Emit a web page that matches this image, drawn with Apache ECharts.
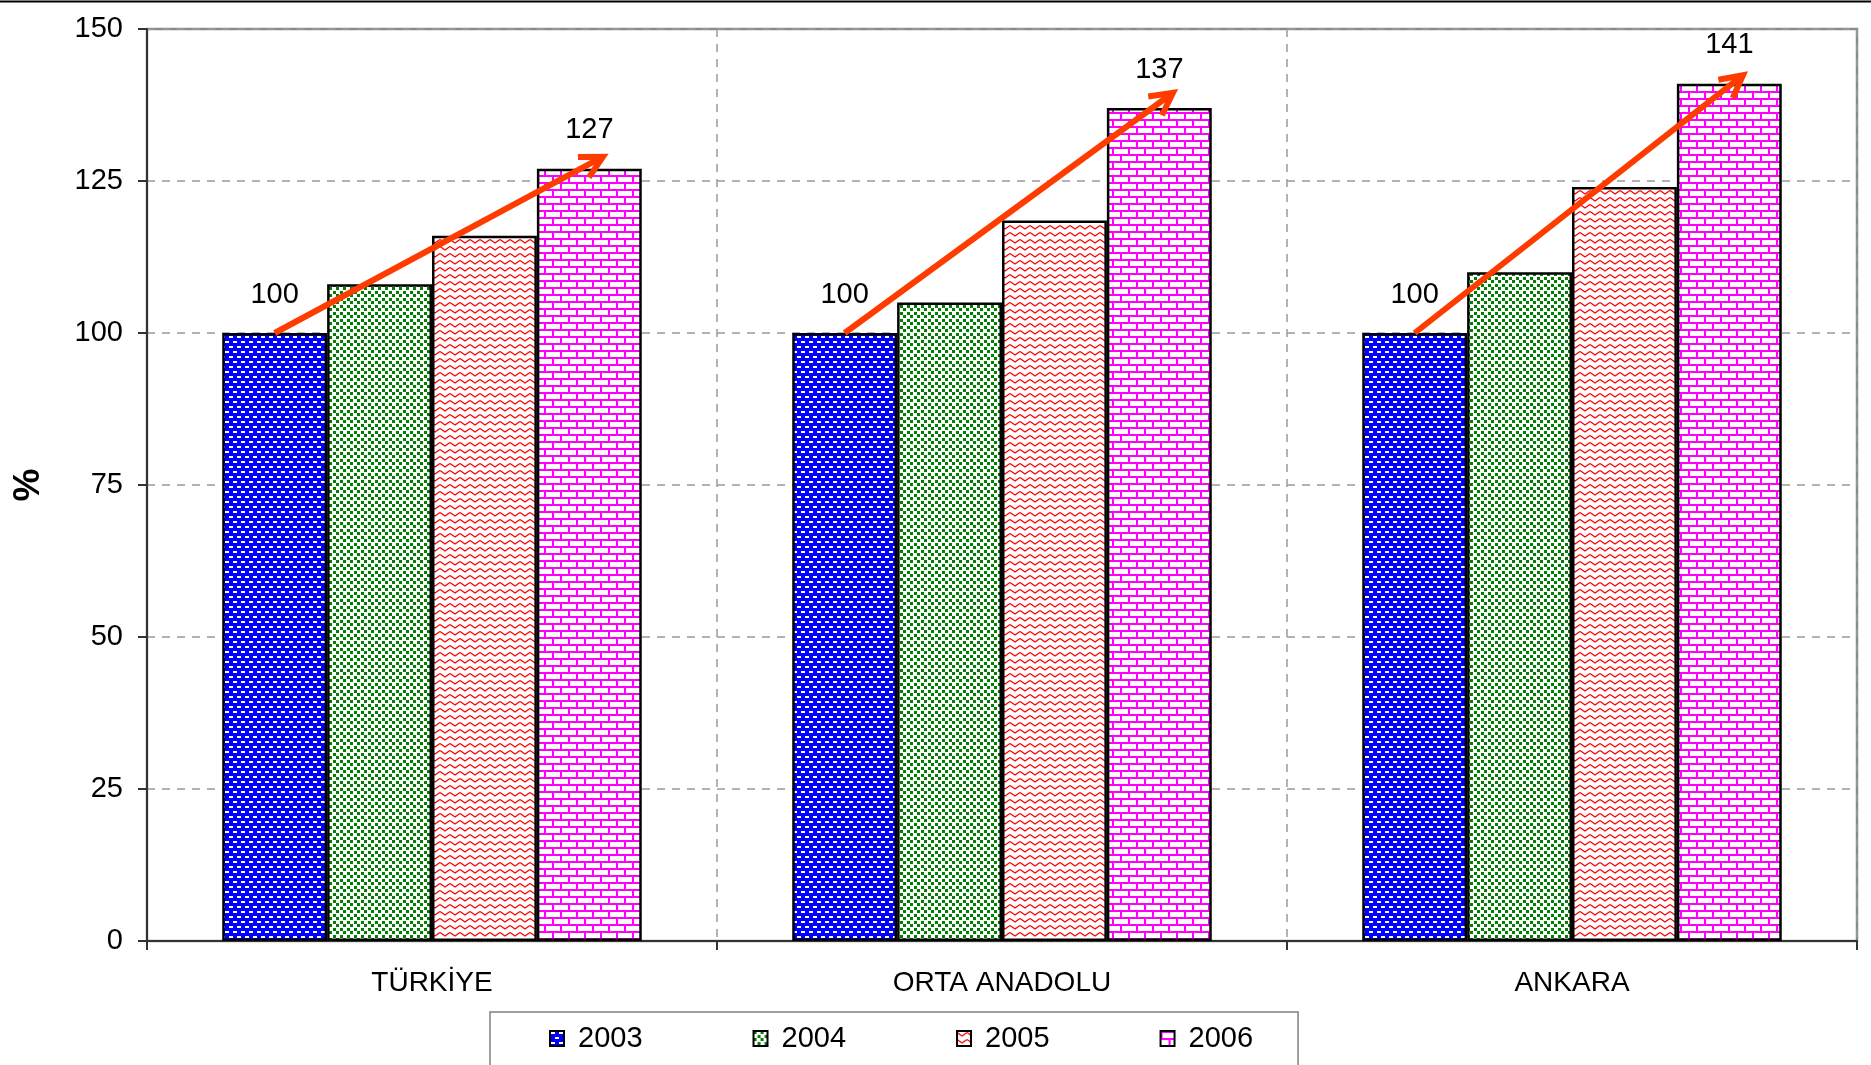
<!DOCTYPE html>
<html>
<head>
<meta charset="utf-8">
<script src="https://cdn.jsdelivr.net/npm/echarts@6/dist/echarts.min.js"></script>
<style>
  html, body { margin: 0; padding: 0; background: #fff; }
  #chart { width: 1871px; height: 1065px; }
</style>
</head>
<body>
<div id="chart"></div>
<script>
// kategoriler ve yıllar
const categories = ['TÜRKİYE', 'ORTA ANADOLU', 'ANKARA']
const years = ['2003', '2004', '2005', '2006']
const yTicks = [0, 25, 50, 75, 100, 125, 150]

// endeks değerleri (2003 = 100)
const v2003 = [100, 100, 100]
const v2004 = [108, 105, 110]
const v2005 = [116, 118.5, 124]
const v2006 = [127, 137, 141]

// artış okları: başlangıç ve uç değerleri
const arrowStart = [100, 100, 100]
const arrowEnd = [129, 139.5, 142.4]

const FONT = 'Liberation Sans, Arial, sans-serif'
const GAP = 0.264

// desen dokuları
function makePattern(w, h, draw) {
  const c = document.createElement('canvas')
  c.width = w
  c.height = h
  const ctx = c.getContext('2d')
  draw(ctx)
  return { image: c, repeat: 'repeat' }
}

const blueDots = makePattern(8, 10, ctx => {
  ctx.fillStyle = '#0000ff'
  ctx.fillRect(0, 0, 8, 10)
  ctx.fillStyle = '#ffffff'
  ctx.fillRect(1, 1, 4, 2)
  ctx.fillRect(5, 6, 3, 2)
  ctx.fillRect(0, 6, 1, 2)
})

const greenDots = makePattern(7, 7, ctx => {
  ctx.fillStyle = '#ffffff'
  ctx.fillRect(0, 0, 7, 7)
  ctx.fillStyle = '#008000'
  ctx.fillRect(0, 0, 3, 3)
  ctx.fillRect(4, 4, 3, 3)
})

const redWaves = makePattern(10, 7, ctx => {
  ctx.fillStyle = '#ffffff'
  ctx.fillRect(0, 0, 10, 7)
  ctx.strokeStyle = '#ff0000'
  ctx.lineWidth = 1.4
  ctx.beginPath()
  ctx.moveTo(0, 1.5)
  ctx.lineTo(5, 5)
  ctx.lineTo(10, 1.5)
  ctx.stroke()
})

const pinkBricks = makePattern(16, 14, ctx => {
  ctx.fillStyle = '#ffffff'
  ctx.fillRect(0, 0, 16, 14)
  ctx.fillStyle = '#ff00ff'
  ctx.fillRect(0, 0, 16, 2)
  ctx.fillRect(0, 7, 16, 2)
  ctx.fillRect(0, 0, 2, 7)
  ctx.fillRect(8, 7, 2, 7)
})

const fills = [blueDots, greenDots, redWaves, pinkBricks]
const values = [v2003, v2004, v2005, v2006]

const myChart = echarts.init(document.getElementById('chart'))

const barSeries = years.map((y, i) => ({
  name: y,
  type: 'bar',
  data: values[i],
  barGap: '0%',
  barCategoryGap: (GAP * 100) + '%',
  itemStyle: {
    color: fills[i],
    borderColor: '#000',
    borderWidth: 2.5
  },
  label: {
    show: i === 0 || i === 3,
    position: 'top',
    distance: 24,
    color: '#000',
    fontSize: 29,
    fontFamily: FONT
  },
  emphasis: { disabled: true },
  silent: true,
  z: 2
}))

const arrowSeries = {
  type: 'custom',
  name: 'arrow',
  silent: true,
  z: 5,
  data: categories.map((c, i) => [i, arrowStart[i], arrowEnd[i]]),
  renderItem: function (params, api) {
    const idx = api.value(0)
    const a = api.coord([idx, api.value(1)])
    const b = api.coord([idx, api.value(2)])
    const barW = api.size([1, 0])[0] * (1 - GAP) / 4
    const x0 = a[0] - 1.5 * barW
    const y0 = a[1]
    const x1 = b[0] + 1.63 * barW
    const y1 = b[1]
    const ang = Math.atan2(y1 - y0, x1 - x0)
    const len = 25
    const th = Math.PI / 6.5
    const w1 = [x1 - len * Math.cos(ang - th), y1 - len * Math.sin(ang - th)]
    const w2 = [x1 - len * Math.cos(ang + th), y1 - len * Math.sin(ang + th)]
    const style = { stroke: '#ff3c00', lineWidth: 6, fill: null }
    return {
      type: 'group',
      children: [{
        type: 'line',
        shape: { x1: x0, y1: y0, x2: x1 - 2 * Math.cos(ang), y2: y1 - 2 * Math.sin(ang) },
        style: style
      }, {
        type: 'polyline',
        shape: { points: [w1, [x1, y1], w2] },
        style: Object.assign({ lineJoin: 'miter' }, style)
      }]
    }
  }
}

const option = {
  animation: false,
  backgroundColor: '#fff',
  textStyle: { fontFamily: FONT },
  graphic: [{
    type: 'rect',
    shape: { x: 0, y: 0.5, width: 1871, height: 2 },
    style: { fill: '#000' },
    silent: true
  }],
  grid: {
    left: 147,
    right: 14,
    top: 29,
    bottom: 124,
    containLabel: false,
    show: true,
    borderColor: '#8a8a8a',
    borderWidth: 2.5
  },
  legend: {
    data: years,
    icon: 'rect',
    left: 490,
    top: 1012,
    orient: 'horizontal',
    itemWidth: 14,
    itemHeight: 15,
    itemGap: 110,
    padding: [12, 45, 40, 59],
    borderColor: '#808080',
    borderWidth: 1.5,
    selectedMode: false,
    textStyle: {
      fontSize: 29,
      fontFamily: FONT,
      color: '#000',
      padding: [0, 0, 0, 9]
    }
  },
  xAxis: {
    type: 'category',
    data: categories,
    axisLine: { lineStyle: { color: '#333', width: 2 } },
    axisTick: { show: true, length: 9, lineStyle: { color: '#333', width: 2 } },
    axisLabel: {
      color: '#000',
      fontSize: 28,
      lineHeight: 28,
      margin: 28,
      fontFamily: FONT
    },
    splitLine: {
      show: true,
      lineStyle: { color: '#9a9a9a', type: [8, 7], width: 1.5 }
    }
  },
  yAxis: {
    type: 'value',
    min: yTicks[0],
    max: yTicks[yTicks.length - 1],
    interval: yTicks[1] - yTicks[0],
    name: '%',
    nameLocation: 'middle',
    nameRotate: 90,
    nameGap: 100,
    nameTextStyle: { fontSize: 37, fontWeight: 'bold', color: '#000', fontFamily: FONT },
    axisLine: { show: true, lineStyle: { color: '#333', width: 2 } },
    axisTick: { show: true, length: 9, lineStyle: { color: '#333', width: 2 } },
    axisLabel: { color: '#000', fontSize: 29, margin: 24, fontFamily: FONT },
    splitLine: {
      show: true,
      lineStyle: { color: '#9a9a9a', type: [8, 7], width: 1.5 }
    }
  },
  series: barSeries.concat([arrowSeries])
}

option && myChart.setOption(option)
</script>
</body>
</html>
